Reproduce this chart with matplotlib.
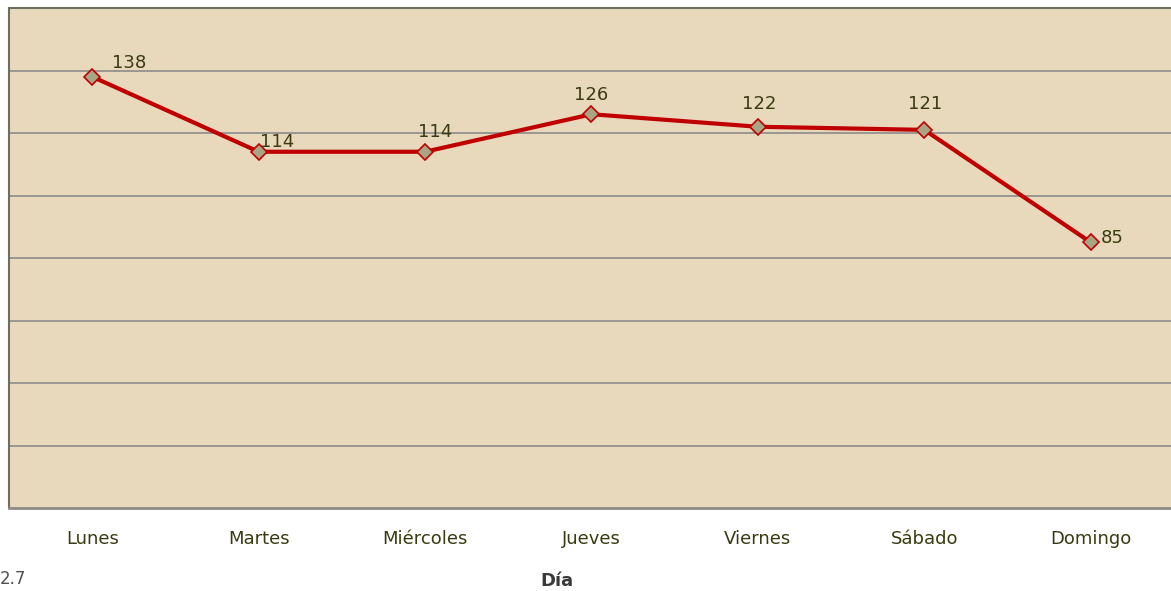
import numpy as np
import matplotlib.pyplot as plt

# Datos: número por día de la semana
dias = ['Lunes', 'Martes', 'Miércoles', 'Jueves', 'Viernes', 'Sábado', 'Domingo']
valores = [138, 114, 114, 126, 122, 121, 85]

# desplazamiento de cada etiqueta (píxeles) y alineación horizontal
desplazamientos = [(20, 14), (1, 10), (10, 20), (0, 19), (1, 23), (1, 26), (10, 4)]
alineaciones = ['left', 'left', 'center', 'center', 'center', 'center', 'left']

W, H = 1171, 591
fig = plt.figure(figsize=(W / 100, H / 100), dpi=100)
ax = fig.add_axes([9 / W, (H - 508) / H, 1165 / W, 500 / H])

fondo = '#E8D9BD'
texto = '#3A3A10'
ax.set_facecolor(fondo)

x = np.arange(len(dias))
ax.plot(x, valores, color='#C00000', linewidth=3, marker='D', markersize=8,
        markerfacecolor='#A8A585', markeredgecolor='#C00000', markeredgewidth=1.2,
        zorder=3)

for xi, v, (dx, dy), ha in zip(x, valores, desplazamientos, alineaciones):
    ax.annotate(str(v), (xi, v), xytext=(dx, dy), textcoords='offset pixels',
                ha=ha, va='center', fontsize=13, color=texto)

ax.set_xlim(-0.5, len(dias) - 0.5)
ax.set_ylim(0, 160)
ax.set_yticks(np.arange(20, 160, 20))
ax.set_yticklabels([])
ax.yaxis.grid(True, color='#8C8C8C', linewidth=1.2)
ax.set_axisbelow(True)
ax.tick_params(axis='both', length=0)
ax.set_xticks(x)
ax.set_xticklabels(dias, fontsize=13, color=texto)
ax.tick_params(axis='x', pad=15.5)

for lado in ['left', 'top', 'bottom', 'right']:
    ax.spines[lado].set_color('#6E6E60')
    ax.spines[lado].set_linewidth(1.5)
ax.spines['bottom'].set_color('#8C8C84')
ax.spines['bottom'].set_linewidth(2)

fig.text(0 / W, 1 - 579 / H, '2.7', fontsize=12, color='#505050',
         family='Liberation Sans Narrow', va='center', ha='left')
fig.text(557 / W, 1 - 581 / H, 'Día', fontsize=13, color='#3A3A3A',
         fontweight='bold', va='center', ha='center')

fig.savefig('out.png', dpi=100, facecolor='white')
